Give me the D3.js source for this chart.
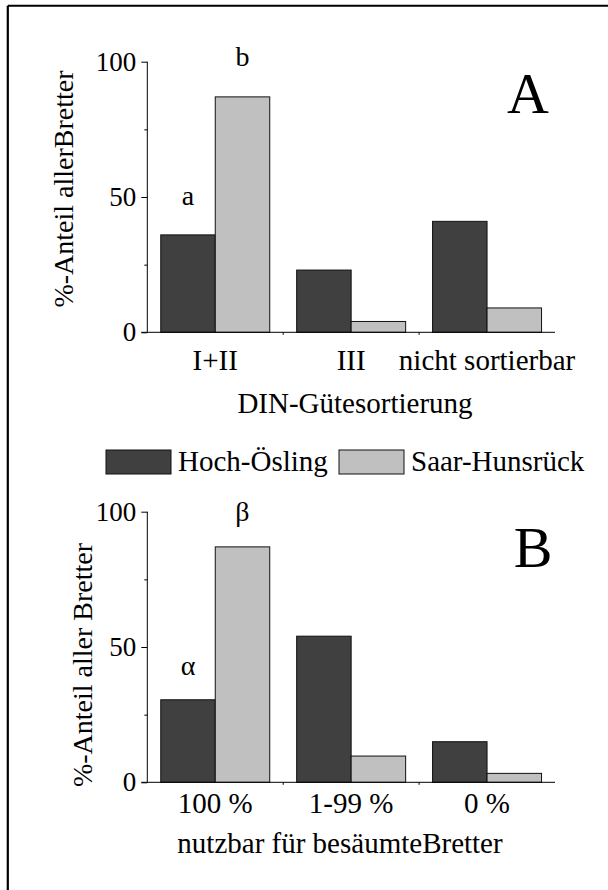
<!DOCTYPE html>
<html>
<head>
<meta charset="utf-8">
<script src="https://cdn.jsdelivr.net/npm/d3@7"></script>
<style>
  html, body { margin: 0; padding: 0; background: #fff; }
  svg { display: block; }
</style>
</head>
<body>
<script>
// Series names and colours
const seriesNames = ["Hoch-Ösling", "Saar-Hunsrück"];
const seriesColors = ["#404040", "#c0c0c0"];

// Panel A: DIN grading classes
const categoriesA = ["I+II", "III", "nicht sortierbar"];
const hochA = [36, 23, 41];
const saarA = [87, 4, 9];

// Panel B: usable for edged boards
const categoriesB = ["100 %", "1-99 %", "0 %"];
const hochB = [30.5, 54, 15];
const saarB = [87, 9.7, 3.3];

// Axis ticks
const majorTicks = [0, 50, 100];
const minorTicks = [25, 75];

const FONT = "Liberation Serif";
const W = 608, H = 890;
const svg = d3.select("body").append("svg").attr("width", W).attr("height", H)
  .attr("font-family", FONT);

// Frame (top and left edges)
svg.append("line").attr("x1", 7.8).attr("x2", W).attr("y1", 5.7).attr("y2", 5.7)
  .attr("stroke", "#000").attr("stroke-width", 2);
svg.append("line").attr("x1", 7.8).attr("x2", 7.8).attr("y1", 5.7).attr("y2", H)
  .attr("stroke", "#000").attr("stroke-width", 2.2);

const FS = 29;

function txt(sel) {
  return sel.append("text").attr("font-family", FONT).attr("fill", "#000");
}

function panel(cfg) {
  const g = svg.append("g");
  const y = d3.scaleLinear().domain([0, 100]).range([cfg.y0, cfg.y100]);
  const x0 = d3.scaleBand().domain(cfg.categories).range([147.3, 555]).padding(0);
  const x1 = d3.scaleBand().domain(seriesNames).range([0, x0.bandwidth()])
    .paddingInner(0).paddingOuter(0.247);

  const rows = cfg.categories.map((c, i) => ({ cat: c, vals: [cfg.hoch[i], cfg.saar[i]] }));

  // bars
  const grp = g.selectAll("g.cat").data(rows).join("g")
    .attr("transform", d => `translate(${x0(d.cat)},0)`);
  grp.selectAll("rect").data(d => d.vals.map((v, k) => ({ v, k })))
    .join("rect")
    .attr("x", d => x1(seriesNames[d.k]))
    .attr("width", x1.bandwidth())
    .attr("y", d => y(d.v))
    .attr("height", d => y(0) - y(d.v))
    .attr("fill", d => seriesColors[d.k])
    .attr("stroke", "#111").attr("stroke-width", 1);

  // y axis
  const yAxis = d3.axisLeft(y).tickValues(majorTicks).tickSize(6).tickPadding(5);
  const ya = g.append("g").attr("transform", "translate(147.3,0)").call(yAxis)
    .attr("font-family", FONT).attr("font-size", 27);
  ya.select(".domain").attr("stroke", "#000").attr("d", `M0,${cfg.y100}V${cfg.y0}`);
  ya.selectAll(".tick line").attr("stroke", "#000");
  ya.selectAll(".tick text").attr("fill", "#000").attr("font-family", FONT);
  const yMinor = d3.axisLeft(y).tickValues(minorTicks).tickSize(3).tickFormat("");
  const ym = g.append("g").attr("transform", "translate(147.3,0)").call(yMinor);
  ym.select(".domain").remove();
  ym.selectAll(".tick line").attr("stroke", "#000");

  // x axis baseline with small ticks at category boundaries
  const bounds = cfg.categories.slice(1).map(c => x0(c));
  const xa = d3.axisBottom(d3.scaleLinear().domain([0, 1]).range([147.3, 555]))
    .tickValues([]).tickSizeOuter(0);
  const xg = g.append("g").attr("transform", `translate(0,${cfg.y0})`).call(xa);
  xg.select(".domain").attr("stroke", "#000").attr("d", "M141.3,0H555");
  xg.selectAll("line.div").data(bounds).join("line").attr("class", "div")
    .attr("x1", d => d).attr("x2", d => d).attr("y1", 0).attr("y2", 2.5)
    .attr("stroke", "#000");

  // category labels
  cfg.categories.forEach(c => {
    txt(g).attr("x", x0(c) + x0.bandwidth() / 2).attr("y", cfg.catY)
      .attr("text-anchor", "middle").attr("font-size", FS).text(c);
  });

  // x title
  txt(g).attr("x", cfg.xTitleX).attr("y", cfg.xTitleY)
    .attr("text-anchor", "middle").attr("font-size", FS).text(cfg.xTitle);

  // y title
  txt(g).attr("transform", `translate(${cfg.yTitleX},${cfg.yTitleY}) rotate(-90)`)
    .attr("text-anchor", "middle").attr("font-size", 28).text(cfg.yTitle);

  // significance letters
  cfg.marks.forEach((m, k) => {
    txt(g).attr("x", x0(cfg.categories[0]) + x1(seriesNames[k]) + x1.bandwidth() / 2)
      .attr("y", m.y).attr("text-anchor", "middle").attr("font-size", 28)
      .text(m.t);
  });

  // panel letter
  txt(g).attr("x", cfg.letterX).attr("y", cfg.letterY)
    .attr("text-anchor", "middle").attr("font-size", 58).text(cfg.letter);
}

panel({
  categories: categoriesA, hoch: hochA, saar: saarA,
  y0: 332.3, y100: 61.7, catY: 370, xTitleX: 355, xTitleY: 413,
  xTitle: "DIN-Gütesortierung",
  yTitle: "%-Anteil allerBretter", yTitleX: 73, yTitleY: 189,
  marks: [{ t: "a", y: 205 }, { t: "b", y: 66 }],
  letter: "A", letterX: 528, letterY: 113.3
});

panel({
  categories: categoriesB, hoch: hochB, saar: saarB,
  y0: 782.3, y100: 511.7, catY: 813, xTitleX: 340, xTitleY: 853,
  xTitle: "nutzbar für besäumteBretter",
  yTitle: "%-Anteil aller Bretter", yTitleX: 92, yTitleY: 665,
  marks: [{ t: "α", y: 675 }, { t: "β", y: 521 }],
  letter: "B", letterX: 533, letterY: 566.7
});

// Legend
const legendX = [106, 339];
const leg = svg.append("g");
seriesNames.forEach((name, k) => {
  leg.append("rect").attr("x", legendX[k]).attr("y", 450).attr("width", 65).attr("height", 24)
    .attr("fill", seriesColors[k]).attr("stroke", "#111").attr("stroke-width", 1);
  txt(leg).attr("x", legendX[k] + 72).attr("y", 471)
    .attr("font-size", FS).text(name);
});
</script>
</body>
</html>
